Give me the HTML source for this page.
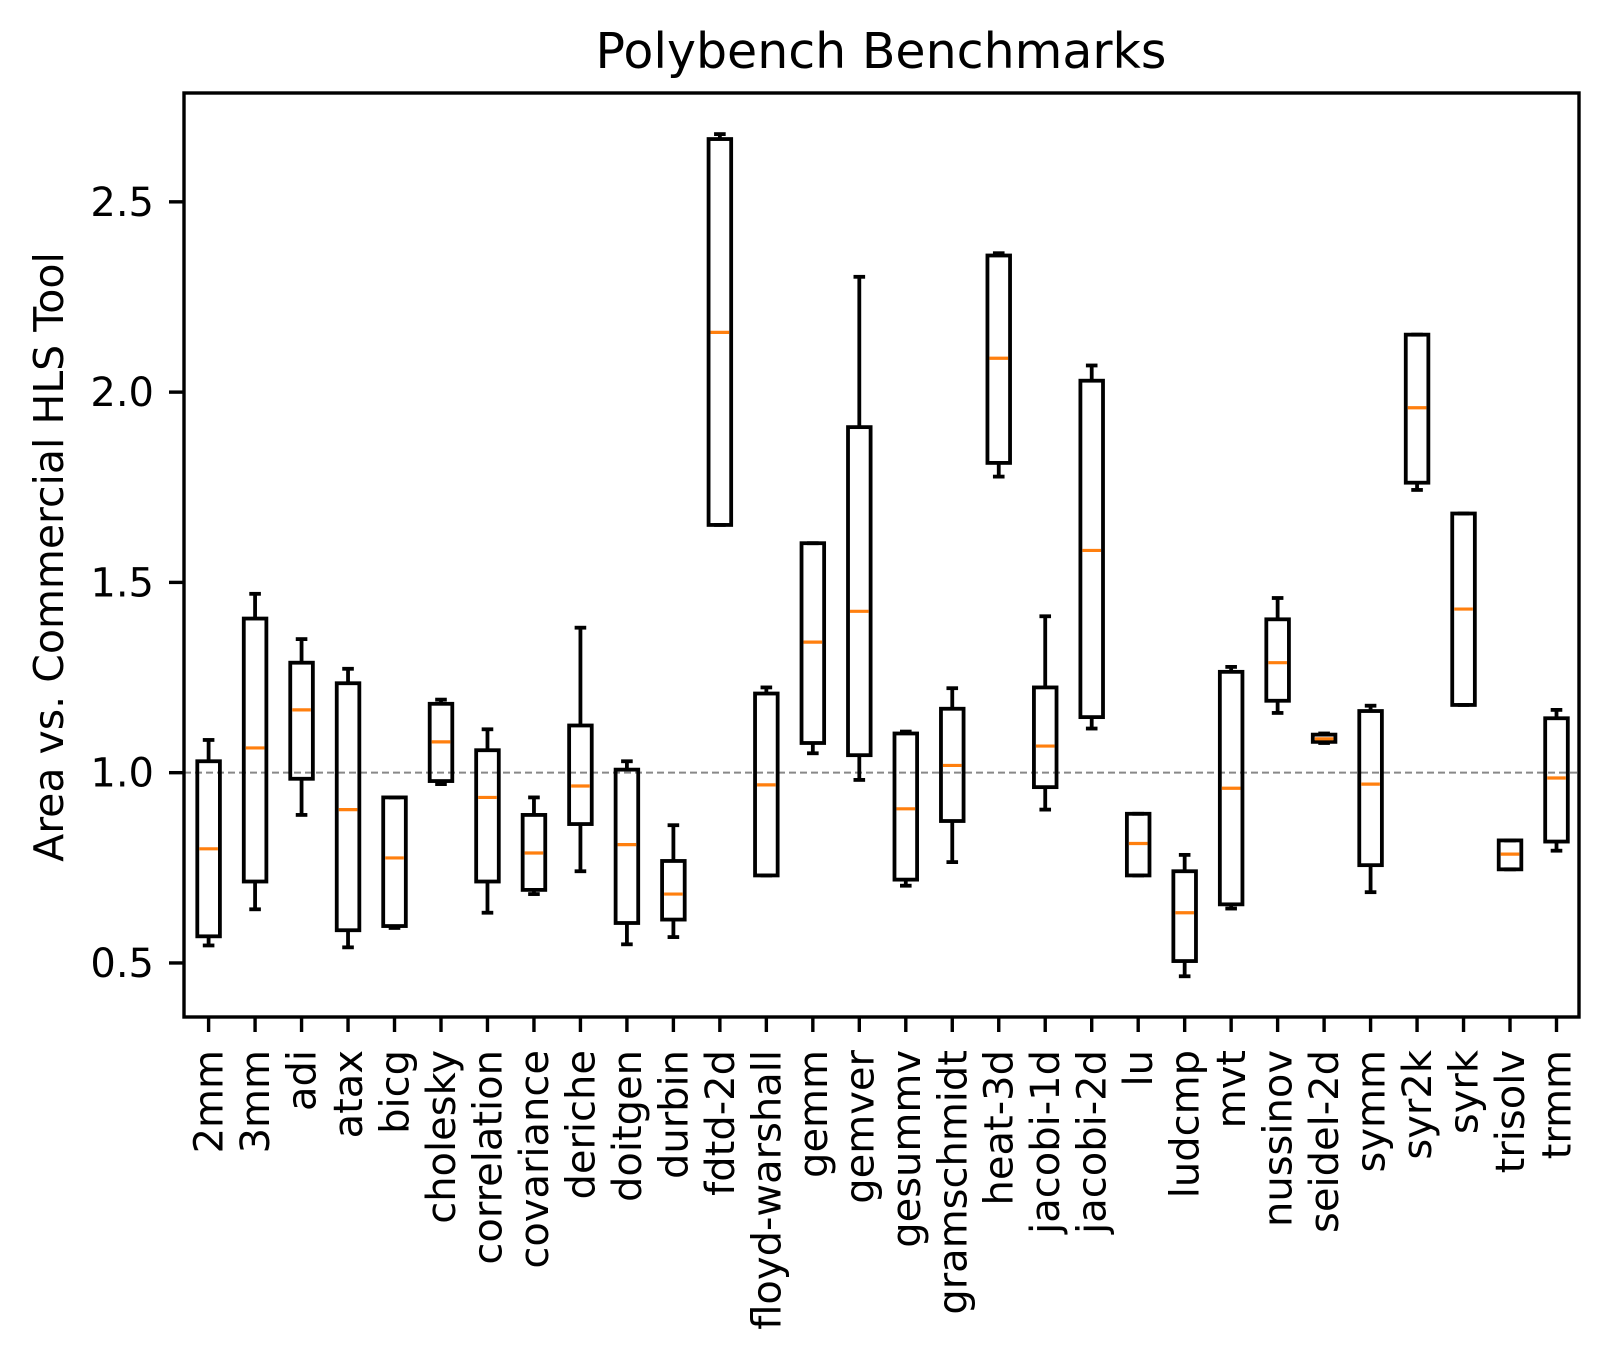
<!DOCTYPE html>
<html><head><meta charset="utf-8"><style>
html,body{margin:0;padding:0;background:#fff;}
svg{display:block;font-family:"DejaVu Sans","Liberation Sans",sans-serif;}
</style></head><body>
<svg id="chart" width="1609" height="1367" viewBox="0 0 1609 1367" xmlns="http://www.w3.org/2000/svg">
<rect width="1609" height="1367" fill="#fff"/>
<text x="881" y="68" font-size="49" text-anchor="middle">Polybench Benchmarks</text>
<text transform="translate(63,557) rotate(-90)" font-size="41" text-anchor="middle">Area vs. Commercial HLS Tool</text>
<g id="plot"></g>
</svg>
<script>
const categories=["2mm","3mm","adi","atax","bicg","cholesky","correlation","covariance","deriche","doitgen","durbin","fdtd-2d","floyd-warshall","gemm","gemver","gesummv","gramschmidt","heat-3d","jacobi-1d","jacobi-2d","lu","ludcmp","mvt","nussinov","seidel-2d","symm","syr2k","syrk","trisolv","trmm"];
const whiskerLow=[0.546,0.641,0.889,0.541,0.592,0.970,0.632,0.681,0.741,0.549,0.568,1.651,0.730,1.051,0.981,0.703,0.765,1.778,0.903,1.116,0.730,0.465,0.643,1.157,1.078,0.686,1.743,1.178,0.746,0.795];
const q1=[0.570,0.714,0.984,0.586,0.597,0.978,0.714,0.692,0.865,0.605,0.614,1.651,0.730,1.078,1.046,0.719,0.873,1.814,0.962,1.146,0.730,0.505,0.654,1.189,1.081,0.757,1.762,1.178,0.746,0.819];
const medians=[0.800,1.065,1.165,0.903,0.776,1.081,0.935,0.789,0.965,0.811,0.681,2.157,0.968,1.343,1.424,0.905,1.019,2.089,1.070,1.584,0.814,0.632,0.959,1.289,1.089,0.970,1.959,1.430,0.786,0.986];
const q3=[1.030,1.405,1.289,1.235,0.935,1.181,1.059,0.889,1.124,1.008,0.768,2.665,1.208,1.603,1.908,1.103,1.168,2.359,1.224,2.030,0.892,0.741,1.265,1.403,1.100,1.162,2.151,1.681,0.822,1.143];
const whiskerHigh=[1.086,1.470,1.351,1.273,0.935,1.192,1.114,0.935,1.381,1.030,0.862,2.678,1.224,1.603,2.303,1.108,1.222,2.365,1.411,2.070,0.892,0.784,1.278,1.459,1.103,1.176,2.151,1.681,0.822,1.165];
const yTicks=[0.5,1.0,1.5,2.0,2.5];
const yTickLabels=["0.5","1.0","1.5","2.0","2.5"];

const L=184,R=1579,T=93,B=1017;
const yMin=0.358,yMax=2.786;
const y=v=>B-(v-yMin)/(yMax-yMin)*(B-T);
const x0=208.6,x1=1556.5;
const x=i=>x0+i*(x1-x0)/(categories.length-1);
const NS="http://www.w3.org/2000/svg";
const g=document.getElementById('plot');
function mk(tag,attrs,parent){const e=document.createElementNS(NS,tag);for(const k in attrs)e.setAttribute(k,attrs[k]);(parent||g).appendChild(e);return e;}

const ref=mk('line',{x1:L,x2:R,y1:y(1),y2:y(1),stroke:'#888','stroke-width':2,'stroke-dasharray':'7,4'});



yTicks.forEach((v,i)=>{
  const t=mk('line',{x1:L-15,x2:L,y1:y(v),y2:y(v),stroke:'#000','stroke-width':3.4});
  
  
  const tx=mk('text',{x:L-30,y:y(v)+14,'font-size':40,'text-anchor':'end'});
  tx.textContent=yTickLabels[i];
  
  
});

const hw=11.3,cw=5.8;
categories.forEach((c,i)=>{
  const cx=x(i);
  const bg=mk('g',{});
  
  
  const s={stroke:'#000','stroke-width':3.8,fill:'none'};
  mk('line',Object.assign({x1:cx,x2:cx,y1:y(whiskerLow[i]),y2:y(q1[i])},s),bg);
  mk('line',Object.assign({x1:cx,x2:cx,y1:y(q3[i]),y2:y(whiskerHigh[i])},s),bg);
  mk('line',Object.assign({x1:cx-cw,x2:cx+cw,y1:y(whiskerLow[i]),y2:y(whiskerLow[i])},s),bg);
  mk('line',Object.assign({x1:cx-cw,x2:cx+cw,y1:y(whiskerHigh[i]),y2:y(whiskerHigh[i])},s),bg);
  mk('rect',Object.assign({x:cx-hw,y:y(q3[i]),width:2*hw,height:y(q1[i])-y(q3[i])},s),bg);
  mk('line',{x1:cx-hw+2,x2:cx+hw-2,y1:y(medians[i]),y2:y(medians[i]),stroke:'#ff7f0e','stroke-width':3.2},bg);
  const t=mk('line',{x1:cx,x2:cx,y1:B,y2:B+15,stroke:'#000','stroke-width':3.4});
  
  
  const tx=mk('text',{transform:`translate(${cx+14},${B+33}) rotate(-90)`,'font-size':40,'text-anchor':'end'});
  tx.textContent=c;
  
  
});

const fr=mk('rect',{x:L,y:T,width:R-L,height:B-T,fill:'none',stroke:'#000','stroke-width':3.4});


</script>
</body></html>
